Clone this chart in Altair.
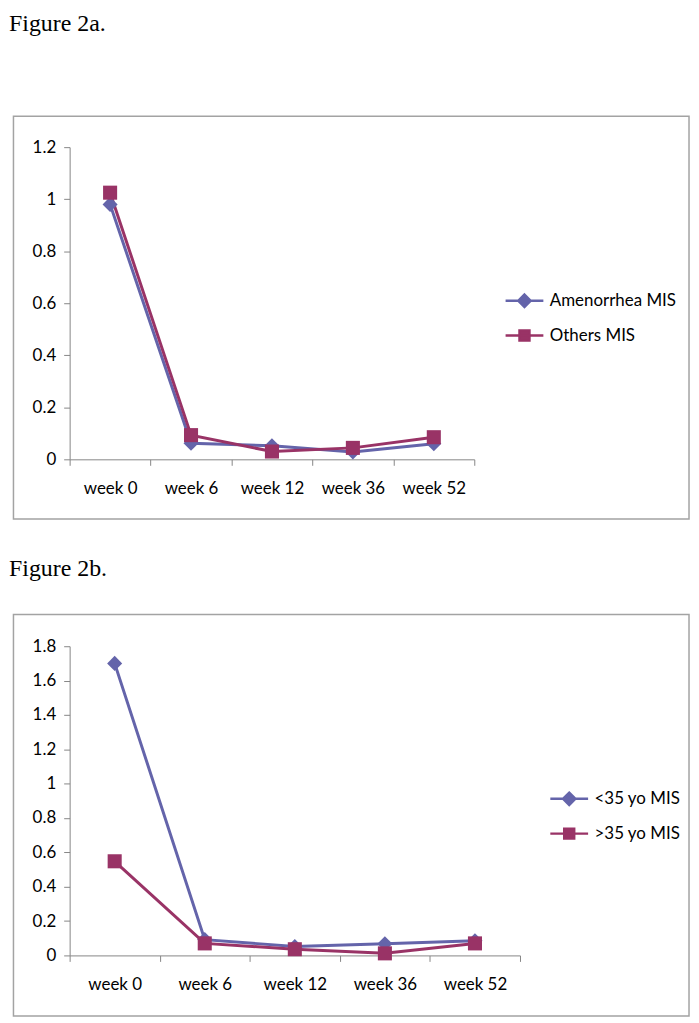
import altair as alt
import pandas as pd

# ---------------- data ----------------
weeks = ["week 0", "week 6", "week 12", "week 36", "week 52"]

titles = ["Figure 2a.", "Figure 2b."]

series_a = ["Amenorrhea MIS", "Others MIS"]
amenorrhea_mis = [0.98, 0.062, 0.052, 0.028, 0.060]
others_mis = [1.025, 0.093, 0.030, 0.044, 0.085]
y_ticks_a = [0, 0.2, 0.4, 0.6, 0.8, 1.0, 1.2]

series_b = ["<35 yo MIS", ">35 yo MIS"]
under35_mis = [1.70, 0.092, 0.052, 0.068, 0.085]
over35_mis = [0.548, 0.070, 0.036, 0.012, 0.070]
y_ticks_b = [0, 0.2, 0.4, 0.6, 0.8, 1.0, 1.2, 1.4, 1.6, 1.8]

colors = ["#6464AA", "#993366"]
markers = ["diamond", "square"]
marker_sizes = [230, 200]

# legend symbols: line with marker in the middle
legend_paths = [
    "M-1.9,0H1.9M0,-0.62L0.62,0L0,0.62L-0.62,0Z",
    "M-1.9,0H1.9M-0.5,-0.5H0.5V0.5H-0.5Z",
]

LABEL_FONT = "Lato"
TITLE_FONT = "Liberation Serif"


def long_table(series, v1, v2):
    rows = []
    for s, vals in zip(series, [v1, v2]):
        for w, v in zip(weeks, vals):
            rows.append({"week": w, "series": s, "value": v})
    return pd.DataFrame(rows)


def panel(title, series, v1, v2, ticks, width, height, box, title_y, legend_xy):
    df = long_table(series, v1, v2)
    base = alt.Chart(df)

    x = alt.X(
        "week:N",
        sort=weeks,
        bandPosition=0.5,
        scale=alt.Scale(type="band", paddingInner=0, paddingOuter=0),
        axis=alt.Axis(title=None, tickBand="extent", labelAngle=0,
                      tickSize=6, labelPadding=15, labelBaseline="top"),
    )
    y = alt.Y(
        "value:Q",
        scale=alt.Scale(domain=[0, ticks[-1]], nice=False, zero=True),
        axis=alt.Axis(title=None, values=ticks, format="~g",
                      tickSize=6, labelPadding=8),
    )

    color_scale = alt.Scale(domain=series, range=colors)
    shape_scale = alt.Scale(domain=series, range=legend_paths)

    legend = alt.Legend(
        title=None, orient="none", legendX=legend_xy[0], legendY=legend_xy[1],
        symbolSize=400, symbolStrokeWidth=2.5, labelFont=LABEL_FONT,
        labelFontSize=17, labelColor="#000000", labelOffset=14,
        rowPadding=12, padding=0,
    )

    frame = alt.Chart(alt.Data(values=[{"k": 0}])).mark_rect(
        fill="transparent", stroke="#A3A3A3", strokeWidth=1.5
    ).encode(
        x=alt.value(box[0]), x2=alt.value(box[1]),
        y=alt.value(box[2]), y2=alt.value(box[3]),
    )

    heading = alt.Chart(alt.Data(values=[{"t": title}])).mark_text(
        align="left", baseline="alphabetic", font=TITLE_FONT,
        fontSize=24, color="#000000",
    ).encode(x=alt.value(-61), y=alt.value(title_y), text="t:N")

    layers = [frame, heading]
    for s, c in zip(series, colors):
        layers.append(
            base.transform_filter(alt.datum.series == s)
            .mark_line(strokeWidth=3, color=c)
            .encode(x=x, y=y)
        )
    for s, c, shp, sz in zip(series, colors, markers, marker_sizes):
        layers.append(
            base.transform_filter(alt.datum.series == s)
            .mark_point(filled=True, shape=shp, size=sz, color=c, opacity=1)
            .encode(x=x, y=y)
        )

    legend_layer = base.transform_filter("false").mark_point(
        filled=True, strokeWidth=2.5, opacity=1
    ).encode(
        x=x, y=y,
        fill=alt.Fill("series:N", scale=color_scale, legend=legend),
        stroke=alt.Stroke("series:N", scale=color_scale, legend=legend),
        shape=alt.Shape("series:N", scale=shape_scale, legend=legend),
    )
    layers.append(legend_layer)

    return alt.layer(*layers).properties(width=width, height=height)


panel_a = panel(titles[0], series_a, amenorrhea_mis, others_mis, y_ticks_a,
                407, 314, box=(-56.5, 623, -31, 374), title_y=-117,
                legend_xy=(446, 143))
panel_b = panel(titles[1], series_b, under35_mis, over35_mis, y_ticks_b,
                453, 311, box=(-56.5, 623, -32, 372), title_y=-71,
                legend_xy=(491, 142))

chart = alt.vconcat(panel_a, panel_b, spacing=35).resolve_scale(
    x="independent", y="independent",
    fill="independent", stroke="independent", shape="independent",
).resolve_legend(
    fill="independent", stroke="independent", shape="independent",
).properties(
    padding=0
).configure_view(
    stroke="transparent"
).configure_axis(
    grid=False,
    domainColor="#868686",
    tickColor="#868686",
    domainWidth=1,
    tickWidth=1,
    labelFont=LABEL_FONT,
    labelFontSize=17,
    labelColor="#000000",
)

chart.save("out.html", embed_options={"renderer": "svg", "actions": False})
